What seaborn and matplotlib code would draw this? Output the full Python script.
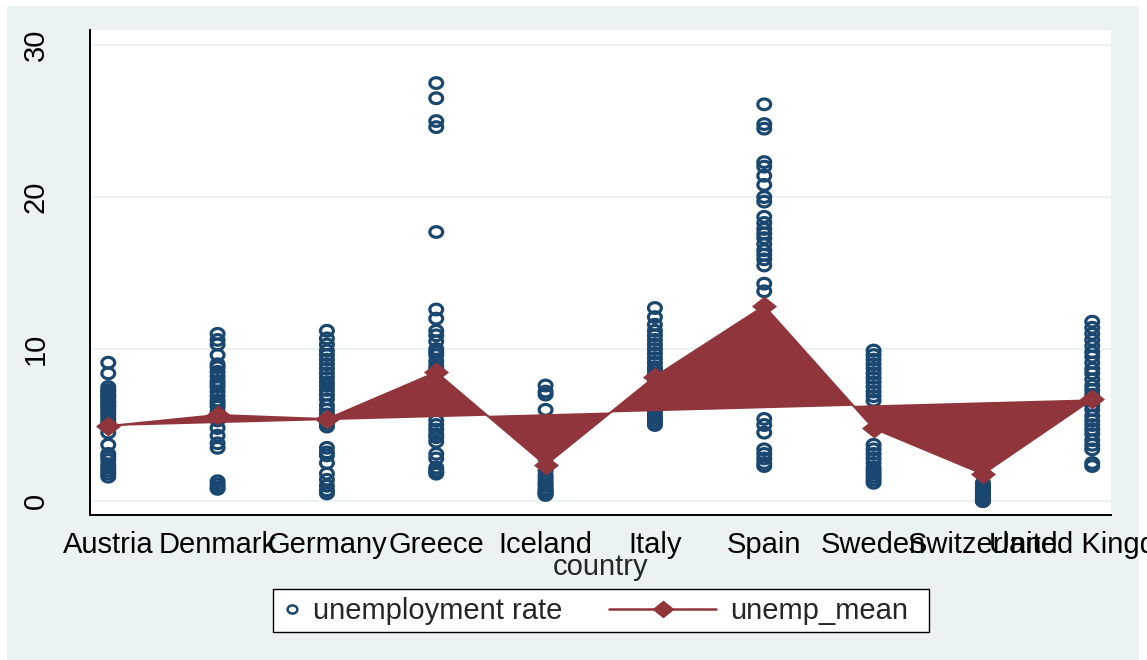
import numpy as np
import pandas as pd
import matplotlib
matplotlib.use("Agg")
import matplotlib.pyplot as plt
from matplotlib.path import Path
from matplotlib.lines import Line2D
from matplotlib.patches import Rectangle
import seaborn as sns

# ---- data -------------------------------------------------------------
countries = ["Austria", "Denmark", "Germany", "Greece", "Iceland",
             "Italy", "Spain", "Sweden", "Switzerland", "United Kingdom"]

austria = [9.1, 8.4, 7.5, 7.3, 7.2, 7.0, 6.9, 6.8, 6.6, 6.5, 6.3, 6.2, 6.0,
           5.8, 5.6, 5.4, 5.2, 4.9, 4.5, 3.7, 3.1, 2.9, 2.7, 2.4, 2.2, 2.0,
           1.8, 1.6]
denmark = [11.0, 10.6, 10.3, 9.6, 9.0, 8.8, 8.5, 8.2, 7.9, 7.7, 7.5, 7.2,
           6.9, 6.6, 6.4, 6.2, 5.9, 5.6, 5.3, 4.8, 4.3, 3.8, 3.5, 1.3, 1.1,
           0.9, 0.8]
germany = [11.2, 10.7, 10.3, 9.9, 9.6, 9.3, 9.0, 8.7, 8.4, 8.1, 7.8, 7.6,
           7.3, 7.0, 6.7, 6.3, 6.0, 5.7, 5.4, 5.1, 4.9, 3.5, 3.2, 3.0, 2.5,
           1.8, 1.4, 1.0, 0.7, 0.5]
greece = [27.5, 26.5, 25.0, 24.6, 17.7, 12.6, 12.0, 11.2, 10.9, 10.5, 10.0,
          9.8, 9.6, 9.2, 8.9, 8.7, 5.3, 5.0, 4.7, 4.4, 4.2, 3.9, 3.1, 2.8,
          2.2, 2.0, 1.9, 1.8]
iceland = [7.6, 7.2, 7.0, 6.0, 2.8, 2.3, 2.0, 1.7, 1.5, 1.3, 1.1, 1.0, 0.8,
           0.7, 0.6, 0.5, 0.5, 0.4]
italy = [12.7, 12.1, 11.6, 11.2, 10.9, 10.6, 10.3, 10.0, 9.7, 9.4, 9.1, 8.8,
         8.6, 8.3, 7.8, 7.4, 6.9, 6.5, 6.1, 5.9, 5.7, 5.5, 5.3, 5.1, 5.0]
spain = [26.1, 24.8, 24.5, 22.3, 22.0, 21.4, 20.8, 20.0, 19.7, 18.7, 18.3,
         17.9, 17.6, 17.3, 16.9, 16.5, 16.2, 15.9, 15.5, 14.3, 13.8, 5.4,
         5.0, 4.5, 3.4, 3.1, 2.8, 2.5, 2.3]
sweden = [9.9, 9.6, 9.3, 9.0, 8.7, 8.4, 8.1, 7.8, 7.5, 7.2, 6.9, 6.6, 3.7,
          3.4, 3.1, 2.8, 2.5, 2.2, 2.0, 1.8, 1.6, 1.4, 1.2]
switzerland = [1.2, 1.0, 0.9, 0.8, 0.7, 0.6, 0.5, 0.4, 0.3, 0.2, 0.2, 0.1,
               0.0, 0.0]
united_kingdom = [11.8, 11.4, 11.0, 10.6, 10.2, 9.8, 9.5, 9.1, 8.7, 8.4, 8.0,
                  7.6, 7.3, 7.0, 6.6, 6.3, 6.0, 5.6, 5.3, 5.0, 4.7, 4.4, 4.0,
                  3.7, 3.4, 2.5, 2.3]

unemp_mean = [4.93, 5.66, 5.39, 8.47, 2.37, 8.18, 12.83, 4.78, 1.78, 6.69]
y_ticks = [0, 10, 20, 30]

series = [austria, denmark, germany, greece, iceland, italy, spain, sweden,
          switzerland, united_kingdom]
codes = np.arange(1, len(countries) + 1)
df = pd.DataFrame({
    "country": np.concatenate([[c] * len(v) for c, v in zip(codes, series)]),
    "unemployment rate": np.concatenate(series),
})
means_df = pd.DataFrame({"country": codes, "unemp_mean": unemp_mean})

# ---- style ------------------------------------------------------------
NAVY = "#1A476F"
MAROON = "#90353B"
BG = "#EAF2F3"

sns.set_style("white")
plt.rcParams["font.family"] = ["Liberation Sans", "DejaVu Sans"]
FS = 21

W, H = 1147, 660
fig = plt.figure(figsize=(W / 100, H / 100), dpi=100, facecolor="white")
fig.patches.append(Rectangle((7 / W, 0), (1139 - 7) / W, (H - 6) / H,
                             transform=fig.transFigure, facecolor=BG,
                             edgecolor="none", zorder=-5))

ax = fig.add_axes([90 / W, (H - 515) / H, (1110.5 - 90) / W, (515 - 30) / H])
ax.set_facecolor("white")

# wide ring and diamond marker shapes
t = np.linspace(0, 2 * np.pi, 60)
ring = Path(np.column_stack([1.2 * np.cos(t), np.sin(t)]), closed=True)
diamond = Path([(-1.25, 0), (0, 1), (1.25, 0), (0, -1), (-1.25, 0)],
               closed=True)

for v in y_ticks:
    ax.axhline(v, color=BG, lw=1.6, zorder=0.5)

sns.scatterplot(data=df, x="country", y="unemployment rate", ax=ax,
                marker=ring, s=85, facecolor="none", edgecolor=NAVY,
                linewidth=2.3, zorder=2, legend=False)
for coll in ax.collections:
    coll.set_facecolor("none")
    coll.set_edgecolor(NAVY)

ax.fill(means_df["country"], means_df["unemp_mean"], color=MAROON, lw=0,
        zorder=3)
sns.lineplot(data=means_df, x="country", y="unemp_mean", ax=ax, sort=False,
             color=MAROON, lw=1.5, marker=diamond, markersize=18,
             markeredgewidth=0, zorder=4, legend=False)

ax.set_xlim(0.833, 10.167)
ax.set_ylim(-0.92, 30.99)
ax.set_xticks(codes)
ax.set_xticklabels(countries, fontsize=FS)
ax.set_yticks(y_ticks)
ax.set_yticklabels([str(v) for v in y_ticks], fontsize=FS, rotation=90,
                   va="center")
ax.tick_params(axis="x", length=7.5, width=1.1, pad=4, color="black",
               labelcolor="black")
ax.tick_params(axis="y", length=8, width=1.1, pad=21, color="black",
               labelcolor="black")
ax.set_xlabel("country", fontsize=FS, labelpad=-4)
ax.set_ylabel("")
for side in ["top", "right"]:
    ax.spines[side].set_visible(False)
for side in ["left", "bottom"]:
    ax.spines[side].set_color("black")
    ax.spines[side].set_linewidth(1.4)

# ---- legend -----------------------------------------------------------
fig.patches.append(Rectangle((273 / W, (H - 632) / H), (929 - 273) / W,
                             (632 - 589) / H, transform=fig.transFigure,
                             facecolor="white", edgecolor="black", lw=1.0,
                             zorder=1))
h_pts = Line2D([], [], ls="none", marker=ring, markersize=7,
               markerfacecolor="none", markeredgecolor=NAVY,
               markeredgewidth=1.8)
h_mean = Line2D([], [], color=MAROON, lw=1.8, marker=diamond, markersize=16,
                markeredgewidth=0)
leg1 = fig.legend([h_pts], ["unemployment rate"], loc="center left",
                  bbox_to_anchor=(285 / W, 1 - 611 / H), frameon=False,
                  fontsize=FS, handlelength=0.5, handletextpad=0.45,
                  borderpad=0, borderaxespad=0)
leg2 = fig.legend([h_mean], ["unemp_mean"], loc="center left",
                  bbox_to_anchor=(609 / W, 1 - 611 / H), frameon=False,
                  fontsize=FS, handlelength=3.67, handletextpad=0.5,
                  borderpad=0, borderaxespad=0)
for lg in (leg1, leg2):
    lg.set_zorder(2)

fig.savefig("out.png", dpi=100, facecolor=fig.get_facecolor())
